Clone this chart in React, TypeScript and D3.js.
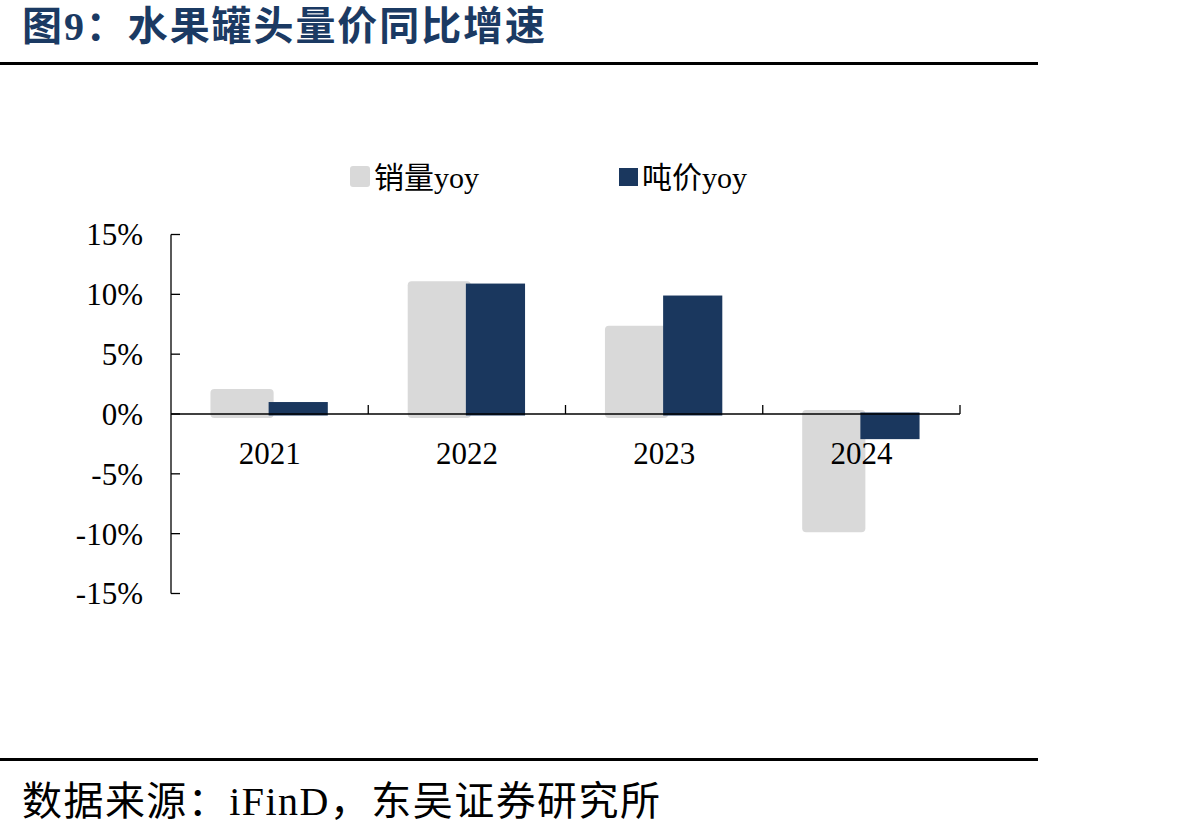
import React from "react";
import * as d3 from "d3";

const categories = ["2021", "2022", "2023", "2024"];
const volumeYoy = [2.0, 11.0, 7.3, -9.8];
const priceYoy = [1.0, 10.9, 9.9, -2.1];
const yTicks = [15, 10, 5, 0, -5, -10, -15];
const seriesNames = ["销量yoy", "吨价yoy"];

const FONT = "'Times New Roman', 'Liberation Serif', 'Noto Sans CJK SC', serif";
const GRAY = "#d9d9d9";
const NAVY = "#1a375e";

export default function App() {
  const W = 1192;
  const H = 833;
  const x0 = 171;
  const x1 = 960;
  const y = d3.scaleLinear().domain([-15, 15]).range([593.5, 234.5]);
  const x = d3.scaleBand().domain(categories).range([x0, x1]).padding(0);
  const bw = x.bandwidth();
  const barW = bw * 0.3;
  const zero = y(0);

  return (
    <svg
      width={W}
      height={H}
      style={{ position: "absolute", left: 0, top: 0, background: "#fff" }}
      fontFamily={FONT}
    >
      {/* Title */}
      <text
        x={22}
        y={40}
        fontSize={40}
        fontWeight="bold"
        fill="#1b3a63"
        textLength={523}
        lengthAdjust="spacing"
      >
        图9：水果罐头量价同比增速
      </text>
      <rect x={0} y={62} width={1038} height={3} fill="#000" />

      {/* Legend */}
      <rect x={350} y={166} width={20} height={21} rx={3} fill={GRAY} />
      <text x={374} y={188} fontSize={30} fill="#000">
        {seriesNames[0]}
      </text>
      <rect x={619} y={168} width={19} height={18} fill={NAVY} />
      <text x={642} y={188} fontSize={30} fill="#000">
        {seriesNames[1]}
      </text>

      {/* Bars: volume (gray) */}
      {categories.map((c, i) => {
        const cx = (x(c) as number) + bw / 2;
        const v = volumeYoy[i];
        const top = v >= 0 ? y(v) - 1 : zero - 4;
        const bot = v >= 0 ? zero + 4 : y(v) + 1;
        return (
          <rect
            key={"g" + c}
            x={cx - barW}
            y={top}
            width={barW + 4}
            height={bot - top}
            rx={4}
            fill={GRAY}
          />
        );
      })}
      {/* Bars: price (navy) */}
      {categories.map((c, i) => {
        const cx = (x(c) as number) + bw / 2;
        const v = priceYoy[i];
        const top = v >= 0 ? y(v) : zero - 1.5;
        const bot = v >= 0 ? zero + 1.5 : y(v);
        return (
          <rect
            key={"n" + c}
            x={cx - 1}
            y={top}
            width={barW}
            height={bot - top}
            fill={NAVY}
          />
        );
      })}

      {/* Y axis */}
      <line x1={x0} x2={x0} y1={y(15)} y2={y(-15)} stroke="#000" strokeWidth={1.3} />
      {yTicks.map((t) => (
        <g key={"yt" + t}>
          <line x1={x0} x2={x0 + 9} y1={y(t)} y2={y(t)} stroke="#000" strokeWidth={1.3} />
          <text
            x={143}
            y={y(t)}
            dy="0.35em"
            textAnchor="end"
            fontSize={31}
            fill="#000"
          >
            {t + "%"}
          </text>
        </g>
      ))}

      {/* X axis */}
      <line x1={x0} x2={x1} y1={zero} y2={zero} stroke="#000" strokeWidth={1.3} />
      {categories.map((c) => {
        const xr = (x(c) as number) + bw;
        return (
          <line
            key={"xt" + c}
            x1={xr}
            x2={xr}
            y1={zero}
            y2={zero - 9}
            stroke="#000"
            strokeWidth={1.3}
          />
        );
      })}
      {categories.map((c) => (
        <text
          key={"xl" + c}
          x={(x(c) as number) + bw / 2}
          y={464}
          textAnchor="middle"
          fontSize={31}
          fill="#000"
        >
          {c}
        </text>
      ))}

      {/* Footer */}
      <rect x={0} y={758} width={1038} height={3} fill="#000" />
      <text
        x={22}
        y={815}
        fontSize={40}
        fill="#000"
        textLength={638}
        lengthAdjust="spacing"
      >
        数据来源：iFinD，东吴证券研究所
      </text>
    </svg>
  );
}
